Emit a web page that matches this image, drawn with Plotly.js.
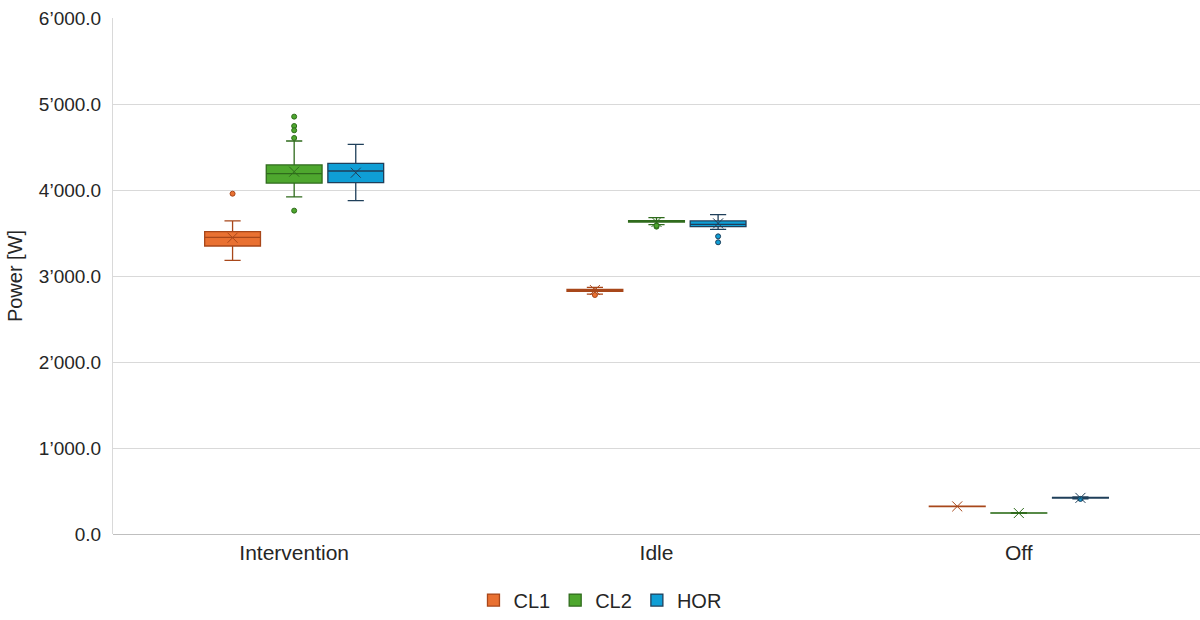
<!DOCTYPE html>
<html>
<head>
<meta charset="utf-8">
<script src="https://cdn.plot.ly/plotly-3.0.1.min.js"></script>
<style>html,body{margin:0;padding:0;background:#fff;}#chart{width:1200px;height:620px;}</style>
</head>
<body>
<div id="chart"></div>
<script>
// Categories and series
const categories = ["Intervention", "Idle", "Off"];
const seriesNames = ["CL1", "CL2", "HOR"];

// Box statistics per series, one value per category
const cl1Lower  = [3182, 2790, 318];
const cl1Q1     = [3349, 2822, 319];
const cl1Median = [3450, 2833, 321];
const cl1Q3     = [3515, 2845, 323];
const cl1Upper  = [3640, 2868, 325];
const cl1Mean   = [3445, 2837, 321];
const cl1OutCat = [0, 1];
const cl1OutVal = [3957, 2779];

const cl2Lower  = [3919, 3597, 240];
const cl2Q1     = [4081, 3628, 242];
const cl2Median = [4190, 3636, 244];
const cl2Q3     = [4291, 3643, 246];
const cl2Upper  = [4570, 3678, 248];
const cl2Mean   = [4213, 3628, 244];
const cl2OutCat = [0, 0, 0, 0, 0, 1, 1];
const cl2OutVal = [4853, 4744, 4694, 4605, 3760, 3574, 3585];

const horLower  = [3876, 3543, 410];
const horQ1     = [4085, 3575, 418];
const horMedian = [4221, 3601, 422];
const horQ3     = [4310, 3640, 426];
const horUpper  = [4531, 3713, 432];
const horMean   = [4201, 3612, 420];
const horOutCat = [1, 1, 2];
const horOutVal = [3461, 3392, 408];

const fillColors = ["#E97132", "#4EA72E", "#0F9ED5"];
const lineColors = ["#A8471A", "#2F6B1C", "#1F3F5A"];

const stats = [
  {lo: cl1Lower, q1: cl1Q1, med: cl1Median, q3: cl1Q3, hi: cl1Upper, mean: cl1Mean, oc: cl1OutCat, ov: cl1OutVal},
  {lo: cl2Lower, q1: cl2Q1, med: cl2Median, q3: cl2Q3, hi: cl2Upper, mean: cl2Mean, oc: cl2OutCat, ov: cl2OutVal},
  {lo: horLower, q1: horQ1, med: horMedian, q3: horQ3, hi: horUpper, mean: horMean, oc: horOutCat, ov: horOutVal}
];

const offsetStep = 0.17;
const boxWidth = 0.154;
const traces = [];
const catIdx = categories.map((c, i) => i);

stats.forEach((s, k) => {
  const off = (k - 1) * offsetStep;
  const xs = catIdx.map(i => i + off);
  traces.push({
    type: "box", name: seriesNames[k], x: xs,
    q1: s.q1, median: s.med, q3: s.q3, lowerfence: s.lo, upperfence: s.hi,
    width: boxWidth, whiskerwidth: 0.29,
    fillcolor: fillColors[k], line: {color: lineColors[k], width: 1.3},
    hoverinfo: "skip", boxpoints: false
  });
});
stats.forEach((s, k) => {
  const off = (k - 1) * offsetStep;
  traces.push({
    type: "scatter", mode: "markers", showlegend: false, hoverinfo: "skip",
    x: s.oc.map(i => i + off), y: s.ov,
    marker: {symbol: "circle", size: 5, color: fillColors[k], line: {color: lineColors[k], width: 1}}
  });
  traces.push({
    type: "scatter", mode: "markers", showlegend: false, hoverinfo: "skip",
    x: catIdx.map(i => i + off), y: s.mean,
    marker: {symbol: "x-thin-open", size: 10, color: lineColors[k], line: {color: "#333333", width: 1}}
  });
});

const layout = {
  width: 1200, height: 620,
  margin: {l: 113, r: 0, t: 18, b: 86},
  paper_bgcolor: "#ffffff", plot_bgcolor: "#ffffff",
  font: {family: "Liberation Sans, Arial, sans-serif", size: 19, color: "#262626"},
  separators: ".\u2019",
  showlegend: true,
  legend: {orientation: "h", x: 0.448, xanchor: "center", y: -0.128, yanchor: "middle",
           font: {size: 20, color: "#262626"}, itemwidth: 30, tracegroupgap: 0},
  xaxis: {
    range: [-0.5, 2.5], tickmode: "array", tickvals: catIdx, ticktext: categories,
    showgrid: false, zeroline: false, showline: false, ticks: "",
    ticklabelstandoff: 4,
    tickfont: {size: 21, color: "#262626"}, fixedrange: true
  },
  yaxis: {
    range: [0, 6000], tickvals: [0, 1000, 2000, 3000, 4000, 5000, 6000],
    tickformat: ",.1f", showgrid: true, gridcolor: "#D9D9D9", gridwidth: 1,
    zeroline: true, zerolinecolor: "#BFBFBF", zerolinewidth: 1,
    showline: true, linecolor: "#D9D9D9", linewidth: 1, ticks: "",
    ticklabelstandoff: 7,
    tickfont: {size: 19, color: "#262626"},
    title: {text: "Power [W]", font: {size: 20, color: "#262626"}, standoff: 10}
  }
};

Plotly.newPlot("chart", traces, layout, {staticPlot: true, displayModeBar: false});
</script>
</body>
</html>
